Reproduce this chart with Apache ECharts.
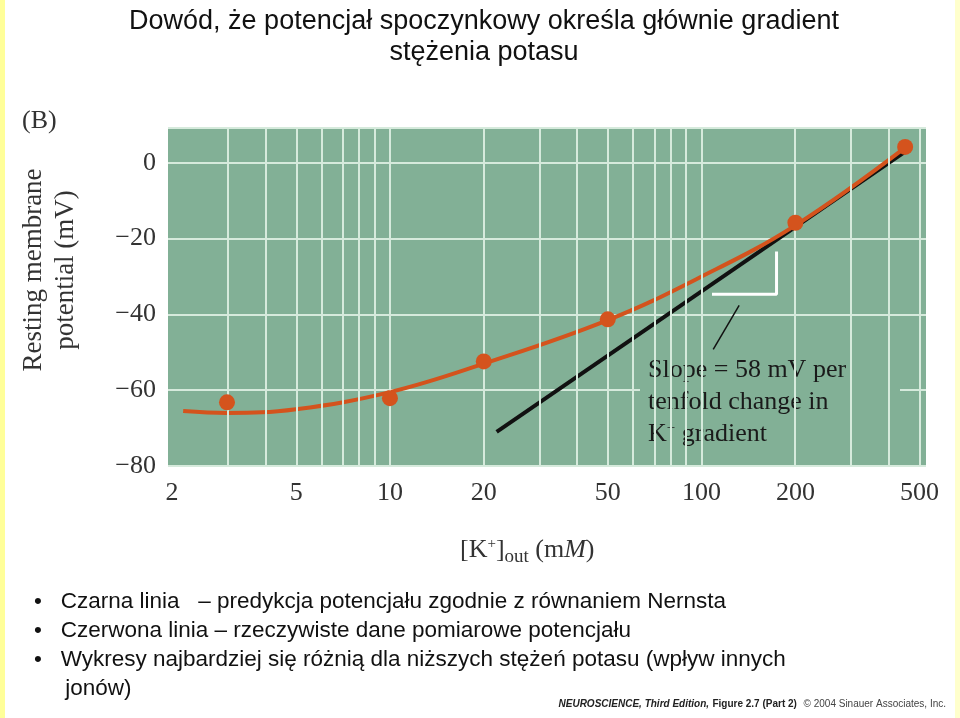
<!DOCTYPE html>
<html>
<head>
<meta charset="utf-8">
<script src="https://cdn.jsdelivr.net/npm/echarts@6/dist/echarts.min.js"></script>
<style>
  html, body { margin: 0; padding: 0; background: #fff; }
  #chart { width: 960px; height: 718px; }
</style>
</head>
<body>
<div id="chart"></div>
<script>
// measured data: [K+]out (mM) vs resting potential (mV)
const measuredK = [3, 10, 20, 50, 200, 450];
const measuredV = [-63.2, -62.1, -52.4, -41.3, -15.8, 4.2];
// smooth fit through data (red curve)
const fitK = [2.17, 3, 5, 10, 20, 50, 100, 200, 450];
const fitV = [-65.5, -66, -65, -60.5, -53, -41.5, -30, -16.5, 4];
// Nernst prediction (black line)
const nernstK = [22, 470];
const nernstV = [-71, 4];
// slope bracket and pointer
const bracketK = [108, 174, 174];
const bracketV = [-34.7, -34.7, -23.4];
const pointerK = [132, 109];
const pointerV = [-37.6, -49.2];
// axis ticks
const xLabels = [2, 5, 10, 20, 50, 100, 200, 500];
const xGrid = [3, 4, 5, 6, 7, 8, 9, 10, 20, 30, 40, 50, 60, 70, 80, 90, 100, 200, 300, 400, 500];

const lg = Math.log10;
const pts = (ks, vs) => ks.map((k, i) => [lg(k), vs[i]]);
const serif = "'Liberation Serif', 'DejaVu Serif', serif";
const sans = "'Liberation Sans', Arial, sans-serif";

let chart = echarts.init(document.getElementById("chart"));
let option = {
  backgroundColor: "#ffffff",
  animation: false,
  grid: { left: 168, right: 34, top: 128, bottom: 252, backgroundColor: "#82b096", show: true, borderWidth: 0 },
  xAxis: {
    type: "value",
    min: lg(1.94),
    max: lg(525),
    splitLine: { show: false },
    axisLine: { show: false },
    axisTick: { show: false },
    axisLabel: {
      customValues: xLabels.map(lg),
      formatter: (v) => String(Math.round(Math.pow(10, v))),
      fontFamily: serif, fontSize: 26, color: "#333", margin: 14,
    },
  },
  yAxis: {
    type: "value",
    min: -80,
    max: 9.2,
    interval: 20,
    axisLine: { show: false },
    axisTick: { show: false },
    splitLine: { lineStyle: { color: "#d6eadc", width: 2 } },
    axisLabel: {
      formatter: (v) => (v > 9 ? "" : String(v).replace("-", "\u2212")),
      fontFamily: serif, fontSize: 26, color: "#333", margin: 12,
    },
  },
  series: [
    {
      type: "line",
      data: [],
      silent: true,
      markLine: {
        symbol: "none",
        label: { show: false },
        lineStyle: { color: "#d6eadc", width: 2, type: "solid" },
        data: xGrid.map((k) => ({ xAxis: lg(k) })),
      },
    },
    {
      type: "line",
      data: pts(nernstK, nernstV),
      showSymbol: false,
      lineStyle: { color: "#111", width: 4 },
      z: 3,
    },
    {
      type: "line",
      data: pts(fitK, fitV),
      smooth: 0.4,
      showSymbol: false,
      lineStyle: { color: "#d4531d", width: 4 },
      z: 4,
    },
    {
      type: "scatter",
      data: pts(measuredK, measuredV),
      symbolSize: 16,
      itemStyle: { color: "#d4531d", opacity: 1 },
      z: 5,
    },
    {
      type: "line",
      data: pts(bracketK, bracketV),
      showSymbol: false,
      lineStyle: { color: "#ffffff", width: 3 },
    },
    {
      type: "line",
      data: pts(pointerK, pointerV),
      showSymbol: false,
      lineStyle: { color: "#111", width: 1.5 },
    },
  ],
  graphic: [
    { type: "rect", shape: { x: 0, y: 0, width: 5, height: 718 }, style: { fill: "#ffff99" } },
    { type: "rect", shape: { x: 955, y: 0, width: 5, height: 718 }, style: { fill: "#ffffcc" } },
    { type: "rect", shape: { x: 640, y: 352, width: 260, height: 100 }, style: { fill: "#82b096" }, z: 1 },
    {
      type: "text", x: 484, y: 6,
      style: {
        text: "Dowód, że potencjał spoczynkowy określa głównie gradient\nstężenia potasu",
        font: "27px " + sans, fill: "#111", align: "center", lineHeight: 31,
      },
    },
    { type: "text", left: 22, top: 108, style: { text: "(B)", font: "26px " + serif, fill: "#333" } },
    {
      type: "text", x: 50, y: 270, rotation: Math.PI / 2, originX: 0, originY: 0,
      style: {
        text: "Resting membrane\npotential (mV)", font: "27px " + serif, fill: "#333",
        align: "center", verticalAlign: "middle", lineHeight: 32,
      },
    },
    {
      type: "text", x: 460, y: 534,
      style: {
        rich: {
          b: { font: "26px " + serif, fill: "#333" },
          sup: { font: "15px " + serif, fill: "#333", padding: [0, 0, 12, 0] },
          sub: { font: "19px " + serif, fill: "#333", padding: [14, 0, 0, 0] },
          i: { font: "italic 26px " + serif, fill: "#333" },
        },
        text: "{b|[K}{sup|+}{b|]}{sub|out}{b| (m}{i|M}{b|)}",
      },
    },
    {
      type: "text", x: 648, y: 354, z: 2,
      style: {
        rich: {
          t: { font: "26px " + serif, fill: "#1a1a1a", lineHeight: 32 },
          sup: { font: "15px " + serif, fill: "#1a1a1a", padding: [0, 0, 12, 0] },
        },
        text: "{t|Slope = 58 mV per}\n{t|tenfold change in}\n{t|K}{sup|+}{t| gradient}",
      },
    },
    {
      type: "text", x: 34, y: 587,
      style: {
        text: "•   Czarna linia   – predykcja potencjału zgodnie z równaniem Nernsta\n•   Czerwona linia – rzeczywiste dane pomiarowe potencjału\n•   Wykresy najbardziej się różnią dla niższych stężeń potasu (wpływ innych\n     jonów)",
        font: "22.5px " + sans, fill: "#111", lineHeight: 29,
      },
    },
    {
      type: "text", right: 14, top: 698,
      style: {
        rich: {
          a: { font: "italic bold 10px " + sans, fill: "#222" },
          b: { font: "bold 10px " + sans, fill: "#222" },
          c: { font: "10px " + sans, fill: "#444" },
        },
        text: "{a|NEUROSCIENCE, Third Edition,} {b|Figure 2.7 (Part 2)}  {c|© 2004 Sinauer Associates, Inc.}",
      },
    },
  ],
};
option && chart.setOption(option);
</script>
</body>
</html>
